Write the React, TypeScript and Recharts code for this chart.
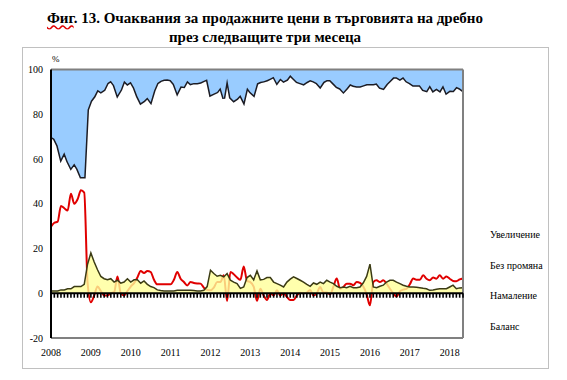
import React from "react";
import { ComposedChart, Area, XAxis, YAxis, ReferenceLine, Legend } from "recharts";

const FONT = '"Liberation Serif", "Times New Roman", serif';

const yearLabels = ["2008", "2009", "2010", "2011", "2012", "2013", "2014", "2015", "2016", "2017", "2018"];
const valueTicks = [-20, 0, 20, 40, 60, 80, 100];
const legendNames = ["Увеличение", "Без промяна", "Намаление", "Баланс"];

// monthly, Jan 2008 - May 2018, %
const increase = [
  30, 31, 34, 40, 37, 41, 44, 42, 44.5, 48, 48, 18,
  14, 12, 9, 10, 9, 6, 5, 7, 11.5, 9, 5, 6.5,
  5.5, 8, 12, 15, 14, 12.5, 14.5, 9.5, 6, 5, 4.5, 4.4,
  4.7, 6.5, 10.5, 7.5, 7.7, 5, 6.4, 6, 6, 5.7, 5, 4.4,
  11.4, 10.7, 10, 8, 13, 4, 12.5, 14, 13, 11.4, 14.4, 8,
  10, 11.4, 6.2, 5.5, 5.2, 4.7, 4, 3.2, 6, 4, 5.2, 4.5,
  2.5, 4, 5.5, 6, 6.5, 5.5, 4.7, 5.2, 6, 7.7, 5.5, 4.7,
  4.7, 6.2, 7.7, 8.4, 10, 8.4, 6.5, 7.2, 7.5, 7.5, 7, 6.5,
  6.5, 6.5, 6.2, 8, 8.5, 6.5, 5, 3.5, 3.5, 4.4, 3.4, 5.2,
  6, 7, 7, 7, 9, 9.5, 7, 9.5, 8.5, 9.5, 7, 10.5,
  9.4, 9.5, 7.7, 8.4, 9.5,
];

const noChange = [
  69, 68, 65, 58.5, 61.5, 57, 54, 55, 52.5, 49, 48, 69,
  68, 74, 80.5, 82.5, 84.5, 88, 88.5, 88, 82.7, 86.5, 90, 87,
  89.5, 86, 82, 80.5, 80.5, 83.5, 82.5, 88, 92.5, 93.8, 94.5, 94.6,
  94.3, 92.5, 88.2, 91.2, 91, 93.7, 92.3, 92.8, 93, 93.3, 93.7, 92.6,
  78.3, 80.5, 82.4, 84, 79.7, 87.2, 81.7, 81, 82.7, 86.4, 82.8, 85,
  82, 82.6, 83.8, 88.5, 88.6, 88.3, 89, 91.8, 89.7, 92.4, 92, 90.5,
  91.2, 88.7, 87.9, 88.2, 88.5, 90.5, 92.2, 90.2, 90, 87.3, 90.2, 89.5,
  90.3, 89.5, 89.2, 89.1, 87.2, 89.1, 90.4, 90.3, 90, 89.7, 88.3, 86,
  80.5, 90.7, 91.3, 88.9, 87.9, 88.5, 89.2, 90.7, 91.5, 91.3, 93, 91.7,
  91.2, 90.2, 90.3, 90.5, 88.8, 88.5, 91.7, 89, 89.7, 88.5, 91, 87.5,
  87.8, 86.9, 90.3, 89.2, 88,
];

const decrease = [
  1, 1, 1, 1.5, 1.5, 2, 2, 3, 3, 3, 4, 13,
  18, 14, 10.5, 7.5, 6.5, 6, 6.5, 5, 5.8, 4.5, 5, 6.5,
  5, 6, 6, 4.5, 5.5, 4, 3, 2.5, 1.5, 1.2, 1, 1,
  1, 1, 1.3, 1.3, 1.3, 1.3, 1.3, 1.2, 1, 1, 1.3, 3,
  10.3, 8.8, 7.6, 8, 7.3, 8.8, 5.8, 5, 4.3, 2.2, 2.8, 7,
  8, 6, 10, 6, 6.2, 7, 7, 5, 4.3, 3.6, 2.8, 5,
  6.3, 7.3, 6.6, 5.8, 5, 4, 3.1, 4.6, 4, 5, 4.3, 5.8,
  5, 4.3, 3.1, 2.5, 2.8, 2.5, 3.1, 2.5, 2.5, 2.8, 4.7, 7.5,
  13, 2.8, 2.5, 3.1, 3.6, 5, 5.8, 5.8, 5, 4.3, 3.6, 3.1,
  2.8, 2.8, 2.7, 2.5, 2.2, 2, 1.3, 1.5, 1.8, 2, 2, 2,
  2.8, 3.6, 2, 2.4, 2.5,
];

const balance = [
  29.7, 31.5, 32, 39, 38, 37, 44.5, 40, 42, 46, 45, 5,
  -4, -1, 3, 1, -1, -1, 0, 0.5, 7.5, 0, -1, 1,
  3, 4.5, 7, 10, 9, 10, 9.5, 6, 4, 4, 4, 4,
  4, 6, 9.5, 6.5, 5, 3.5, 5, 4.6, 4.4, 4.3, 2.5, 1.5,
  1.3, 2.5, 5, 5, 8, -3.5, 9.5, 8.5, 7, 6, 12, 5.5,
  5, 3, -3.4, 2, -1, -3, 0, -1, 1.3, -1, 0, -1.6,
  -3, -3, -1, 0.2, 0, 0.3, 1.5, -1, 0, 2.8, 0.3, 0.3,
  -0.5, 3, 6.6, 2, 2.8, 4.3, 4.3, 3.6, 5, 4.6, 3, -0.5,
  -5.4, 5, 5.8, 5, 5.8, 4.3, 2, 0, -1.5, 0.8, 1.6, 2,
  4, 6.6, 6, 6, 8, 6.5, 5.8, 7, 6.5, 8, 6.5, 7.5,
  6.5, 5.5, 5.4, 6.2, 6.6,
];

const data = increase.map((v, i) => ({
  date: `${yearLabels[Math.floor(i / 12)]}-${String((i % 12) + 1).padStart(2, "0")}`,
  increase: v,
  noChange: noChange[i],
  decrease: decrease[i],
  balance: balance[i],
}));

const janTicks = yearLabels.map((y) => `${y}-01`);
const lastDate = data[data.length - 1].date;

const renderLegend = (props: any) => {
  const items = [...(props.payload || [])].sort(
    (a: any, b: any) => legendNames.indexOf(a.value) - legendNames.indexOf(b.value)
  );
  return (
    <div style={{ fontFamily: FONT, fontSize: 10, color: "#000" }}>
      {items.map((p: any) => (
        <div key={p.value} style={{ height: 30.7, lineHeight: "14px", whiteSpace: "nowrap" }}>
          {p.value}
        </div>
      ))}
    </div>
  );
};

export default function App() {
  return (
    <div
      style={{
        position: "absolute",
        left: 0,
        top: 0,
        width: 567,
        height: 380,
        background: "#fff",
        fontFamily: FONT,
        color: "#000",
      }}
    >
      <div
        style={{
          position: "absolute",
          left: 0,
          top: 9,
          width: 530,
          textAlign: "center",
          fontWeight: "bold",
          fontSize: 15,
          lineHeight: "19px",
        }}
      >
        <span style={{ textDecoration: "underline wavy #e00000" }}>Фиг</span>. 13. Очаквания за
        продажните цени в търговията на дребно
        <br />
        през следващите три месеца
      </div>

      {/* frame */}
      <div
        style={{
          position: "absolute",
          left: 22,
          top: 47,
          width: 525,
          height: 320,
          border: "1px solid #c0c0c0",
        }}
      />

      <div style={{ position: "absolute", left: 52, top: 54, fontSize: 9 }}>%</div>

      <div style={{ position: "absolute", left: 0, top: 0 }}>
        <ComposedChart
          width={567}
          height={380}
          data={data}
          margin={{ top: 69.5, right: 104, bottom: 12, left: 20 }}
        >
          <XAxis
            dataKey="date"
            ticks={janTicks}
            interval={0}
            tickFormatter={(v: string) => v.slice(0, 4)}
            tickLine={false}
            tickMargin={5}
            height={30}
            axisLine={{ stroke: "#808080", strokeWidth: 2 }}
            tick={{ fontSize: 10, fill: "#000", fontFamily: FONT }}
          />
          <YAxis
            type="number"
            domain={[-20, 100]}
            ticks={valueTicks}
            interval={0}
            width={31}
            tickLine={false}
            axisLine={{ stroke: "#000", strokeWidth: 2 }}
            tick={{ fontSize: 10, fill: "#000", fontFamily: FONT }}
          />

          <Area
            name="Баланс"
            dataKey="balance"
            type="monotone"
            stroke="#e00000"
            strokeWidth={2}
            fill="none"
            dot={false}
            activeDot={false}
            isAnimationActive={false}
          />
          <Area
            name="Намаление"
            dataKey="decrease"
            stackId="a"
            type="linear"
            stroke="#3b3b14"
            strokeWidth={1.5}
            fill="#ffff99"
            fillOpacity={0.8}
            dot={false}
            activeDot={false}
            isAnimationActive={false}
          />
          <Area
            name="Без промяна"
            dataKey="noChange"
            stackId="a"
            type="linear"
            stroke="#1c1c24"
            strokeWidth={3}
            fill="none"
            dot={false}
            activeDot={false}
            isAnimationActive={false}
          />
          <Area
            name="Увеличение"
            dataKey="increase"
            stackId="a"
            type="linear"
            stroke="none"
            fill="#99ccff"
            fillOpacity={1}
            dot={false}
            activeDot={false}
            isAnimationActive={false}
          />

          <ReferenceLine y={100} stroke="#808080" strokeWidth={2} />
          <ReferenceLine x={lastDate} stroke="#808080" strokeWidth={2} />
          <ReferenceLine y={0} stroke="#000" strokeWidth={2} />
          {data.map((d) => (
            <ReferenceLine
              key={d.date}
              segment={[
                { x: d.date, y: 0 },
                { x: d.date, y: -2 },
              ]}
              stroke="#000"
              strokeWidth={1.6}
              ifOverflow="visible"
            />
          ))}

          <Legend
            layout="horizontal"
            align="center"
            verticalAlign="middle"
            content={renderLegend}
            wrapperStyle={{ left: 490, top: 228, width: 75 }}
          />
        </ComposedChart>
      </div>
    </div>
  );
}
